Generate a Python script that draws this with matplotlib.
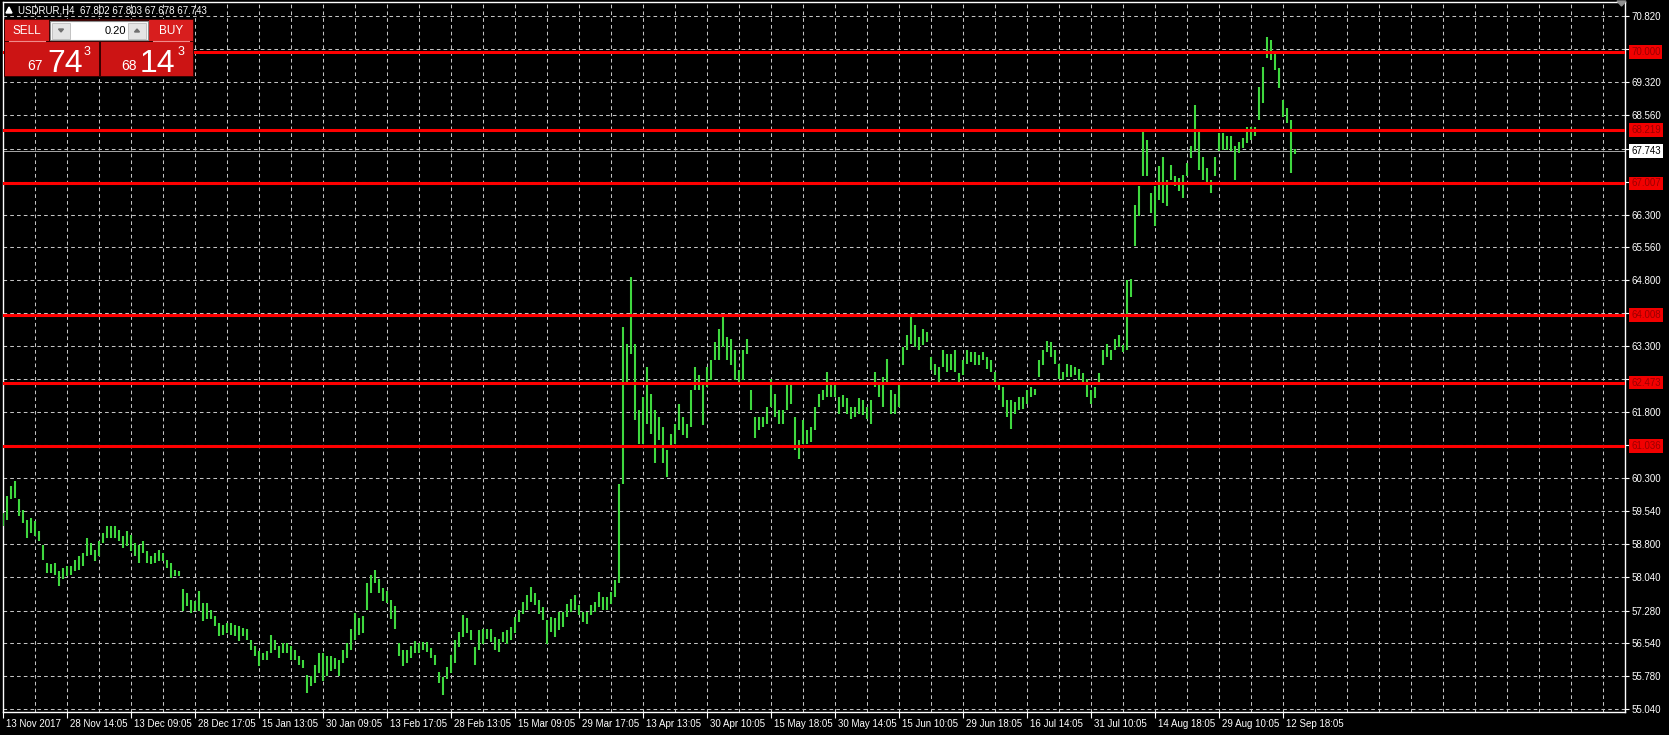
import numpy as np
import matplotlib.pyplot as plt
from matplotlib.patches import Rectangle, Polygon

plt.rcParams['font.family'] = ['Liberation Sans', 'DejaVu Sans']

# USDRUR H4 - bar highs / lows (one entry every second bar)
highs = [
    59.50, 59.88, 60.11, 60.22, 59.81, 59.58, 59.35, 59.39, 59.31, 59.09,
    58.78, 58.37, 58.33, 58.37, 58.18, 58.25, 58.29, 58.29, 58.44, 58.52,
    58.59, 58.93, 58.82, 58.67, 58.86, 59.05, 59.20, 59.20, 59.20, 59.12,
    58.97, 59.09, 59.01, 58.82, 58.78, 58.86, 58.63, 58.52, 58.59, 58.67,
    58.59, 58.44, 58.37, 58.21, 58.18, 57.76, 57.68, 57.53, 57.49, 57.72,
    57.45, 57.45, 57.30, 57.15, 57.00, 56.96, 57.00, 57.00, 56.96, 56.92,
    56.89, 56.85, 56.62, 56.47, 56.35, 56.32, 56.35, 56.73, 56.62, 56.47,
    56.54, 56.54, 56.47, 56.39, 56.24, 56.16, 55.82, 55.79, 56.05, 56.32,
    56.32, 56.24, 56.24, 56.20, 56.16, 56.39, 56.54, 56.85, 57.23, 57.11,
    57.15, 57.91, 58.10, 58.21, 57.99, 57.80, 57.72, 57.53, 57.38, 56.54,
    56.39, 56.39, 56.47, 56.58, 56.54, 56.57, 56.57, 56.42, 56.26, 55.88,
    55.77, 56.00, 56.26, 56.61, 56.80, 57.17, 57.10, 56.83, 56.45, 56.83,
    56.87, 56.87, 56.87, 56.68, 56.64, 56.80, 56.83, 56.91, 57.14, 57.29,
    57.48, 57.63, 57.82, 57.67, 57.52, 57.36, 57.06, 57.14, 57.10, 57.25,
    57.25, 57.44, 57.55, 57.63, 57.40, 57.25, 57.25, 57.40, 57.48, 57.71,
    57.59, 57.59, 57.71, 57.97, 60.17, 63.74, 63.36, 64.88, 63.36, 61.84,
    62.14, 62.83, 62.22, 61.84, 61.69, 61.46, 60.93, 61.31, 61.54, 61.99,
    61.69, 61.54, 62.30, 62.83, 62.64, 62.45, 62.83, 62.98, 63.40, 63.70,
    64.04, 63.51, 63.47, 63.21, 62.75, 63.21, 63.47, 62.30, 61.69, 61.69,
    61.69, 61.92, 62.56, 62.22, 61.84, 61.84, 62.45, 62.45, 61.69, 61.16,
    61.61, 61.39, 61.46, 61.92, 62.22, 62.30, 62.71, 62.49, 62.45, 62.14,
    62.18, 62.11, 61.92, 61.92, 62.11, 62.07, 61.92, 62.07, 62.71, 62.45,
    62.60, 63.02, 62.30, 62.22, 62.45, 63.28, 63.55, 63.97, 63.78, 63.51,
    63.70, 63.62, 63.05, 62.90, 62.83, 63.21, 63.13, 63.13, 63.21, 62.68,
    62.98, 63.21, 63.17, 63.17, 63.09, 63.17, 63.05, 62.98, 62.71, 62.49,
    62.37, 62.07, 62.07, 62.03, 62.14, 62.14, 62.30, 62.37, 62.33, 62.98,
    63.21, 63.43, 63.40, 63.21, 62.90, 62.71, 62.90, 62.87, 62.83, 62.79,
    62.68, 62.56, 62.30, 62.37, 62.68, 63.21, 63.36, 63.21, 63.47, 63.55,
    63.32, 64.80, 64.84, 66.52, 66.94, 68.19, 68.00, 66.79, 66.94, 67.40,
    67.62, 67.09, 67.43, 67.17, 67.13, 67.21, 67.47, 67.85, 68.80, 68.19,
    67.62, 67.36, 67.09, 67.62, 68.15, 68.15, 68.08, 68.08, 67.85, 67.96,
    68.04, 68.30, 68.30, 68.30, 69.21, 69.67, 70.35, 70.28, 69.97, 69.63,
    68.91, 68.72, 68.46, 67.80,
]
lows = [
    59.20, 59.35, 59.81, 59.84, 59.43, 59.28, 58.93, 59.05, 58.97, 58.86,
    58.44, 58.14, 58.14, 58.10, 57.83, 57.99, 58.06, 58.10, 58.18, 58.21,
    58.29, 58.52, 58.55, 58.40, 58.52, 58.82, 58.93, 58.93, 58.93, 58.86,
    58.71, 58.74, 58.63, 58.52, 58.37, 58.59, 58.37, 58.33, 58.37, 58.40,
    58.40, 58.25, 58.02, 58.06, 58.06, 57.27, 57.38, 57.23, 57.27, 57.27,
    57.04, 57.08, 57.08, 56.92, 56.70, 56.73, 56.77, 56.73, 56.70, 56.58,
    56.70, 56.62, 56.39, 56.24, 56.01, 56.16, 56.16, 56.32, 56.39, 56.20,
    56.32, 56.32, 56.16, 56.16, 56.05, 55.98, 55.41, 55.56, 55.63, 55.86,
    55.67, 55.79, 55.90, 55.94, 55.79, 56.09, 56.20, 56.39, 56.62, 56.73,
    56.77, 57.30, 57.68, 57.91, 57.68, 57.49, 57.45, 57.08, 56.85, 56.24,
    56.01, 56.09, 56.20, 56.32, 56.32, 56.38, 56.34, 56.19, 56.04, 55.62,
    55.35, 55.73, 55.85, 56.08, 56.45, 56.68, 56.76, 56.61, 56.04, 56.38,
    56.53, 56.64, 56.57, 56.38, 56.34, 56.57, 56.53, 56.61, 56.76, 57.02,
    57.21, 57.29, 57.48, 57.40, 57.21, 57.06, 56.53, 56.80, 56.68, 56.83,
    56.91, 57.14, 57.25, 57.29, 57.17, 57.02, 56.98, 57.17, 57.25, 57.36,
    57.29, 57.29, 57.44, 57.59, 57.90, 60.17, 62.45, 63.13, 61.61, 61.08,
    61.08, 61.54, 61.31, 60.63, 61.16, 60.63, 60.32, 61.01, 61.08, 61.39,
    61.27, 61.20, 61.46, 62.30, 62.30, 61.50, 62.37, 62.52, 62.98, 62.98,
    63.28, 62.98, 62.87, 62.52, 62.41, 62.52, 63.13, 61.84, 61.20, 61.39,
    61.46, 61.54, 61.92, 61.69, 61.54, 61.54, 61.84, 61.99, 60.93, 60.74,
    61.08, 61.08, 61.12, 61.39, 61.92, 62.07, 62.14, 62.14, 62.14, 61.76,
    61.92, 61.76, 61.65, 61.69, 61.76, 61.73, 61.65, 61.54, 62.37, 62.14,
    61.92, 62.45, 61.76, 61.76, 61.92, 62.87, 63.21, 63.36, 63.28, 63.21,
    63.32, 63.40, 62.75, 62.64, 62.49, 62.83, 62.71, 62.75, 62.71, 62.41,
    62.64, 62.90, 62.94, 62.87, 62.87, 62.98, 62.79, 62.71, 62.49, 62.30,
    61.92, 61.69, 61.42, 61.76, 61.84, 61.88, 61.99, 62.14, 62.18, 62.60,
    62.87, 63.17, 63.05, 62.90, 62.56, 62.52, 62.60, 62.60, 62.64, 62.52,
    62.45, 62.14, 61.99, 62.11, 62.49, 62.87, 63.05, 62.98, 63.21, 63.28,
    63.17, 63.21, 64.42, 65.58, 66.26, 67.17, 67.17, 66.33, 66.03, 66.64,
    66.56, 66.49, 67.09, 66.94, 66.83, 66.68, 67.17, 67.58, 67.74, 67.32,
    67.09, 67.02, 66.79, 67.17, 67.74, 67.77, 67.77, 67.74, 67.09, 67.70,
    67.81, 67.93, 68.00, 68.08, 68.46, 68.84, 69.86, 69.82, 69.59, 69.18,
    68.53, 68.38, 67.24, 67.68,
]

date_labels = ['13 Nov 2017', '28 Nov 14:05', '13 Dec 09:05', '28 Dec 17:05',
               '15 Jan 13:05', '30 Jan 09:05', '13 Feb 17:05', '28 Feb 13:05',
               '15 Mar 09:05', '29 Mar 17:05', '13 Apr 13:05', '30 Apr 10:05',
               '15 May 18:05', '30 May 14:05', '15 Jun 10:05', '29 Jun 18:05',
               '16 Jul 14:05', '31 Jul 10:05', '14 Aug 18:05', '29 Aug 10:05',
               '12 Sep 18:05']

grid_prices = [70.820, 70.070, 69.320, 68.560, 67.800, 67.050, 66.300, 65.560,
               64.800, 64.050, 63.300, 62.550, 61.800, 61.050, 60.300, 59.540,
               58.800, 58.040, 57.280, 56.540, 55.780, 55.040]
# labels hidden behind the level boxes stay empty
price_labels = ['70.820', '', '69.320', '68.560', '', '', '66.300', '65.560',
                '64.800', '', '63.300', '', '61.800', '', '60.300', '59.540',
                '58.800', '58.040', '57.280', '56.540', '55.780', '55.040']

levels = [70.000, 68.219, 67.007, 64.008, 62.473, 61.036]
last_price = 67.743
header = 'USDRUR,H4  67.802 67.803 67.678 67.743'

W, H = 1669, 735
fig = plt.figure(figsize=(W / 100, H / 100), dpi=100, facecolor='black')
ax = fig.add_axes([3 / W, 1 - 712 / H, (1625 - 3) / W, (712 - 2) / H])
ax.set_facecolor('black')

grid_kw = dict(color='#c4c4c4', lw=0.75, ls=(0, (3.5, 3)), zorder=1)
for p in grid_prices:
    ax.axhline(p, **grid_kw)
for k in range(8, 406, 8):
    ax.axvline(k, **grid_kw)

x = np.arange(len(highs))
ax.vlines(x, lows, highs, colors='#3fd83f', lw=1.5, zorder=3)

ax.axhline(last_price, color='#a8a8a8', lw=0.7, zorder=2)
for lv in levels:
    ax.axhline(lv, color='#ff0000', lw=2.2, zorder=4)

ax.set_xlim(-0.125, 405.5)
ax.set_ylim(54.97, 71.14)
for s in ax.spines.values():
    s.set_color('white')
    s.set_linewidth(1.0)

ax.yaxis.tick_right()
ax.set_yticks(grid_prices)
ax.set_yticklabels(price_labels)
ax.tick_params(axis='y', colors='white', length=3, width=0.8, labelsize=7, pad=2)

ax.set_xticks(np.arange(len(date_labels)) * 16)
ax.set_xticklabels([])
ax.tick_params(axis='x', colors='white', length=4, width=0.8)
for i, lbl in enumerate(date_labels):
    ax.annotate(lbl, xy=(i * 16, 0), xycoords=('data', 'axes fraction'),
                xytext=(3, -12), textcoords='offset pixels', ha='left',
                va='center', color='white', fontsize=7, annotation_clip=False)

# level tags on the price scale
for lv in levels:
    ax.annotate(f'{lv:.3f}', xy=(1, lv), xycoords=('axes fraction', 'data'),
                xytext=(6, 0), textcoords='offset pixels', ha='left', va='center',
                color='#9a0000', fontsize=7, annotation_clip=False,
                bbox=dict(boxstyle='square,pad=0.2', fc='#f20000', ec='none'))
ax.annotate(f'{last_price:.3f}', xy=(1, last_price), xycoords=('axes fraction', 'data'),
            xytext=(6, 0), textcoords='offset pixels', ha='left', va='center',
            color='black', fontsize=7, annotation_clip=False,
            bbox=dict(boxstyle='square,pad=0.2', fc='white', ec='none'))

# overlay in pixel coordinates for the header and trade panel
ov = fig.add_axes([0, 0, 1, 1])
ov.set_xlim(0, W)
ov.set_ylim(H, 0)
ov.axis('off')

ov.add_patch(Polygon([(6, 13), (12, 13), (9, 7)], color='white'))
ov.text(18, 10, header, color='white', fontsize=7, va='center', ha='left')
ov.add_patch(Polygon([(1617, 1), (1626, 1), (1621.5, 6)], color='#909090'))

ov.add_patch(Rectangle((4, 19), 190, 58, fc='#3a0000', ec='none'))
ov.add_patch(Rectangle((5, 20), 44, 21, fc='#d81e1e', ec='none'))
ov.add_patch(Rectangle((149, 20), 44, 21, fc='#d81e1e', ec='none'))
ov.plot([9, 45], [40.5, 40.5], color='#f08a8a', lw=0.8)
ov.plot([153, 189], [40.5, 40.5], color='#f08a8a', lw=0.8)
ov.text(27, 30.5, 'SELL', color='white', fontsize=8.5, ha='center', va='center')
ov.text(171, 30.5, 'BUY', color='white', fontsize=8.5, ha='center', va='center')

ov.add_patch(Rectangle((50, 21), 98, 19, fc='white', ec='#8a8a8a', lw=0.8))
ov.add_patch(Rectangle((52, 22.5), 18, 16, fc='#e4e4e4', ec='#b0b0b0', lw=0.5))
ov.add_patch(Rectangle((128, 22.5), 18, 16, fc='#e4e4e4', ec='#b0b0b0', lw=0.5))
ov.add_patch(Polygon([(58.5, 29), (63.5, 29), (61, 32)], color='#707070'))
ov.add_patch(Polygon([(134.5, 32), (139.5, 32), (137, 29)], color='#707070'))
ov.text(126, 30.5, '0.20', color='black', fontsize=8, ha='right', va='center')

ov.add_patch(Rectangle((5, 42), 94, 34, fc='#cc1414', ec='none'))
ov.add_patch(Rectangle((101, 42), 92, 34, fc='#cc1414', ec='none'))
ov.text(43, 70, '67', color='white', fontsize=10, ha='right', va='baseline')
ov.text(47, 72, '74', color='white', fontsize=23, ha='left', va='baseline')
ov.text(84, 52, '3', color='white', fontsize=9, ha='left', va='center')
ov.text(137, 70, '68', color='white', fontsize=10, ha='right', va='baseline')
ov.text(140, 72, '14', color='white', fontsize=23, ha='left', va='baseline')
ov.text(178, 52, '3', color='white', fontsize=9, ha='left', va='center')

fig.savefig('out.png', dpi=100, facecolor='black')
